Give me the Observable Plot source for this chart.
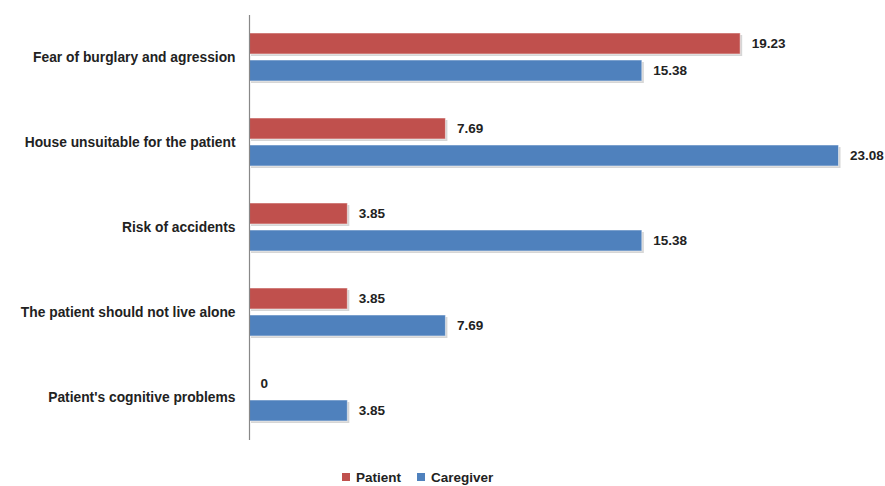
<!DOCTYPE html>
<html>
<head>
<meta charset="utf-8">
<script src="https://cdn.jsdelivr.net/npm/d3@7"></script>
<script src="https://cdn.jsdelivr.net/npm/@observablehq/plot@0.6"></script>
<style>
  body { margin: 0; background: #fff; font-family: "Liberation Sans", Arial, sans-serif; }
  #legend { display: flex; gap: 16px; margin-left: 342px; margin-top: 10px; font-weight: bold; font-size: 13.5px; color: #222; }
  #legend span.sw { display: inline-block; width: 8px; height: 8px; margin-right: 6px; vertical-align: 1px; }
</style>
</head>
<body>
<div id="chart"></div>
<div id="legend"></div>
<script>
const categories = [
  "Fear of burglary and agression",
  "House unsuitable for the patient",
  "Risk of accidents",
  "The patient should not live alone",
  "Patient's cognitive problems"
];
const seriesNames = ["Patient", "Caregiver"];
const patientValues = [19.23, 7.69, 3.85, 3.85, 0];
const caregiverValues = [15.38, 23.08, 15.38, 7.69, 3.85];
const colors = ["#C0504D", "#4F81BD"];

const data = [];
categories.forEach((c, i) => {
  data.push({category: c, series: "Patient", value: patientValues[i]});
  data.push({category: c, series: "Caregiver", value: caregiverValues[i]});
});

const chart = Plot.plot({
  width: 885,
  height: 460,
  marginLeft: 249,
  marginRight: 23,
  marginTop: 14,
  marginBottom: 19,
  facet: {marginTop: 0, marginBottom: 0},
  style: {fontFamily: "Liberation Sans, Arial, sans-serif"},
  x: {domain: [0, 24], axis: null},
  y: {domain: seriesNames, axis: null, paddingInner: 0.214, paddingOuter: 0.63},
  fy: {domain: categories, padding: 0, axis: null},
  color: {domain: seriesNames, range: colors},
  marks: [
    Plot.axisFy({anchor: "left", tickSize: 0, tickPadding: 14, fontWeight: "bold", fontSize: 13.8, fill: "#222", label: null}),
    Plot.barX(data.filter(d => d.value > 0), {x: "value", y: "series", fy: "category", fill: "#bbb", fillOpacity: 0.6, dx: 2, dy: 2}),
    Plot.barX(data, {x: "value", y: "series", fy: "category", fill: "series", stroke: "#fff", strokeOpacity: 0.5, strokeWidth: 1}),
    Plot.text(data, {x: "value", y: "series", fy: "category", text: d => String(d.value), textAnchor: "start", dx: 11, fontWeight: "bold", fontSize: 13.5, fill: "#222"}),
    Plot.ruleX([0], {stroke: "#888", strokeWidth: 1.2})
  ]
});
document.getElementById("chart").appendChild(chart);

const legend = document.getElementById("legend");
seriesNames.forEach((s, i) => {
  const item = document.createElement("div");
  item.innerHTML = `<span class="sw" style="background:${colors[i]}"></span>${s}`;
  legend.appendChild(item);
});
</script>
</body>
</html>
